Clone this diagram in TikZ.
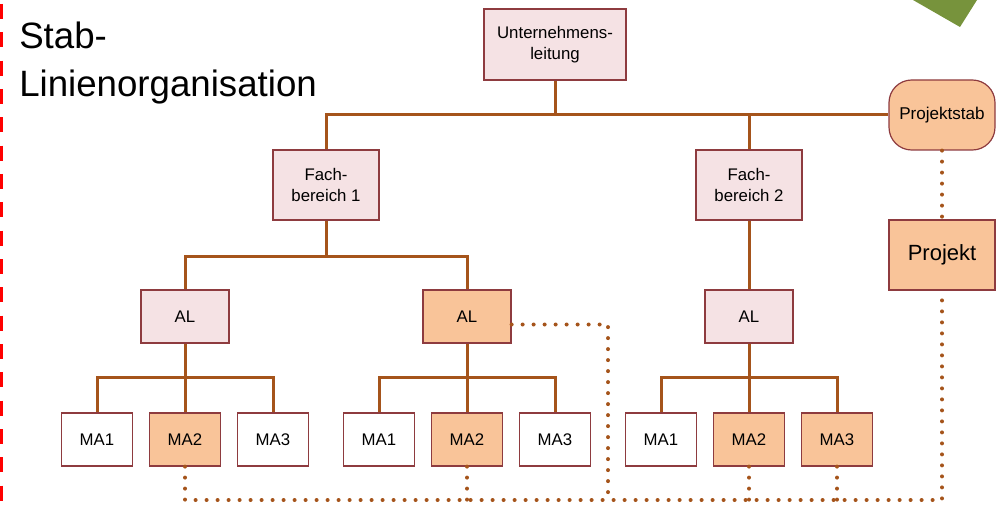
\documentclass[tikz,border=0pt]{standalone}
\usepackage{fontspec}
\setmainfont{Liberation Sans}
\definecolor{lineb}{HTML}{A5541B}
\definecolor{pinkf}{HTML}{F5E2E4}
\definecolor{boxd}{HTML}{8E3B3F}
\definecolor{orf}{HTML}{F9C499}
\definecolor{wgreen}{HTML}{77933C}
\begin{document}
\begin{tikzpicture}[x=0.75pt,y=-0.75pt,
  box/.style={draw=boxd, line width=0.9pt, inner sep=0pt, align=center,
    font=\fontsize{12.6}{16}\selectfont, text=black},
  bigbox/.style={box, minimum width=79.5pt, minimum height=52.5pt},
  albox/.style={box, minimum width=66pt, minimum height=39.75pt},
  mabox/.style={box, minimum width=53.25pt, minimum height=39.75pt},
  pinkf/.style={fill=pinkf},
  orf/.style={fill=orf},
  whitef/.style={fill=white},
  conn/.style={draw=lineb, line width=2.25pt},
  dotl/.style={draw=lineb, line width=3pt, line cap=round, dash pattern=on 0pt off 8.25pt}
]
\useasboundingbox (0,0) rectangle (996,506);

% decorations
\fill[wgreen] (913,0) -- (977,0) -- (960,27) -- cycle;
\draw[red, line width=2pt, dash pattern=on 11.25pt off 10pt] (1.3,4) -- (1.3,506);

% title
\node[anchor=north west, inner sep=0pt, align=left, font=\fontsize{27.5}{35.7}\selectfont] (title) at (19,22) {Stab-\\Linienorganisation};

% nodes
\node[box, pinkf, minimum width=106.5pt, minimum height=53.25pt] (ul) at (555,44.5) {Unternehmens-\\leitung};
\node[box, orf, minimum width=79.5pt, minimum height=52.5pt, rounded corners=17pt, font=\fontsize{12.8}{15}\selectfont] (ps) at (942,115) {Projektstab};
\node[bigbox, pinkf] (fb1) at (326,185) {Fach-\\bereich 1};
\node[bigbox, pinkf] (fb2) at (749,185) {Fach-\\bereich 2};
\node[bigbox, orf, font=\fontsize{16.5}{20}\selectfont] (pj) at (942,255) {Projekt};

\node[albox, pinkf] (al1) at (185,316.5) {AL};
\node[albox, orf] (al2) at (467,316.5) {AL};
\node[albox, pinkf] (al3) at (749,316.5) {AL};

\node[mabox, whitef] (ma11) at (97,439.5) {MA1};
\node[mabox, orf] (ma12) at (185,439.5) {MA2};
\node[mabox, whitef] (ma13) at (273,439.5) {MA3};
\node[mabox, whitef] (ma21) at (379,439.5) {MA1};
\node[mabox, orf] (ma22) at (467,439.5) {MA2};
\node[mabox, whitef] (ma23) at (555,439.5) {MA3};
\node[mabox, whitef] (ma31) at (661,439.5) {MA1};
\node[mabox, orf] (ma32) at (749,439.5) {MA2};
\node[mabox, orf] (ma33) at (837,439.5) {MA3};

% bus coordinates
\coordinate (b1) at (326,256);
\coordinate (m1) at (185,377);
\coordinate (m2) at (467,377);
\coordinate (m3) at (749,377);
\coordinate (dend) at (942,500);
\coordinate (dc) at (608,500);

% solid connectors
\draw[conn] (fb1.north) |- (ps.west);
\draw[conn] (ul.south) -- (ul.south |- ps.west);
\draw[conn] (fb2.north) -- (fb2.north |- ps.west);

\draw[conn] (fb1.south) -- (b1);
\draw[conn] (al1.north) |- (b1) -| (al2.north);
\draw[conn] (fb2.south) -- (al3.north);

\draw[conn] (al1.south) -- (ma12.north);
\draw[conn] (ma11.north) |- (m1) -| (ma13.north);
\draw[conn] (al2.south) -- (ma22.north);
\draw[conn] (ma21.north) |- (m2) -| (ma23.north);
\draw[conn] (al3.south) -- (ma32.north);
\draw[conn] (ma31.north) |- (m3) -| (ma33.north);

% dotted connectors
\draw[dotl] (ps.south) -- (pj.north);
\draw[dotl] (ma12.south) |- (dend) -- (pj.south);
\draw[dotl] (ma22.south) -- (ma22.south |- dend);
\draw[dotl] (ma32.south) -- (ma32.south |- dend);
\draw[dotl] (ma33.south) -- (ma33.south |- dend);
\draw[dotl] ([yshift=-6pt]al2.east) -| (dc);
\end{tikzpicture}
\end{document}
